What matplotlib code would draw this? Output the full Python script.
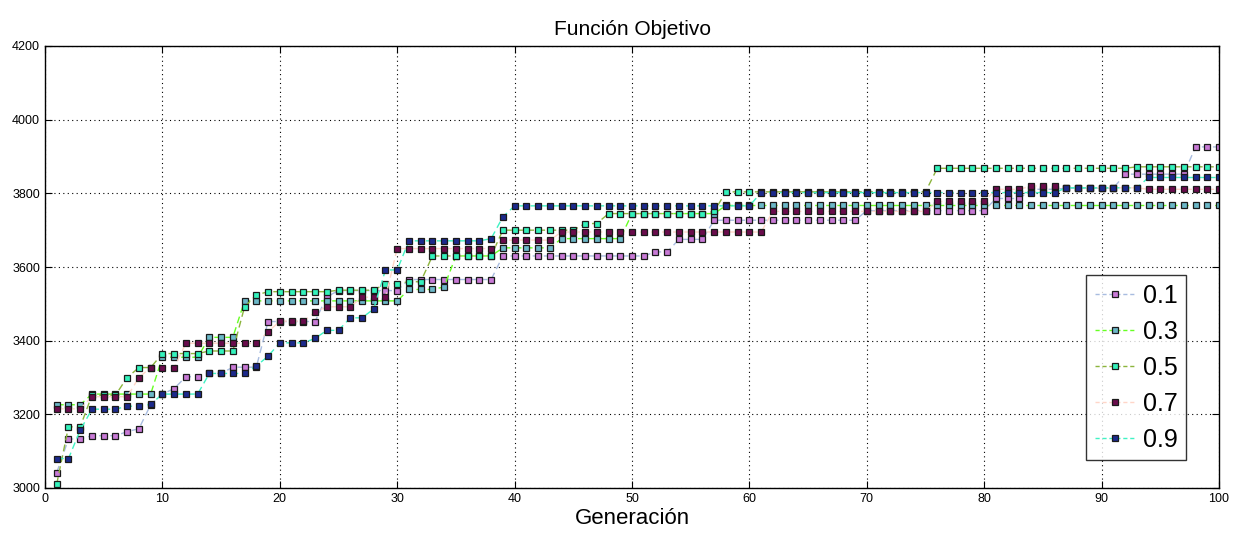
import numpy as np
import matplotlib
matplotlib.use("Agg")
import matplotlib.pyplot as plt
from matplotlib import font_manager

# Best objective value per generation for each parameter setting (step runs)
generations = list(range(1, 101))

def steps(runs):
    vals = []
    for count, v in runs:
        vals.extend([v] * count)
    return vals

serie_01 = steps([(1, 3042), (2, 3133), (3, 3142), (1, 3153), (1, 3161), (1, 3226),
                  (1, 3255), (1, 3270), (2, 3302), (2, 3311), (3, 3328), (5, 3452),
                  (1, 3519), (6, 3536), (8, 3566), (13, 3630), (2, 3641), (3, 3675),
                  (13, 3727), (11, 3753), (3, 3786), (3, 3811), (5, 3814), (6, 3852),
                  (3, 3926)])
serie_03 = steps([(3, 3226), (6, 3255), (4, 3355), (3, 3409), (14, 3508), (3, 3539),
                  (1, 3546), (4, 3630), (5, 3652), (6, 3677), (8, 3745), (43, 3767)])
serie_05 = steps([(1, 3011), (2, 3166), (3, 3252), (1, 3300), (2, 3327), (4, 3365),
                  (3, 3372), (1, 3492), (1, 3524), (6, 3533), (4, 3537), (2, 3555),
                  (2, 3560), (6, 3630), (7, 3700), (2, 3718), (9, 3745), (1, 3751),
                  (18, 3804), (17, 3868), (8, 3872)])
serie_07 = steps([(3, 3215), (4, 3248), (1, 3300), (3, 3327), (7, 3393), (1, 3424),
                  (3, 3453), (1, 3477), (3, 3492), (3, 3518), (9, 3650), (5, 3673),
                  (18, 3695), (14, 3751), (5, 3778), (3, 3811), (3, 3820), (7, 3815),
                  (7, 3811)])
serie_09 = steps([(2, 3080), (1, 3157), (3, 3214), (2, 3222), (1, 3227), (4, 3255),
                  (4, 3311), (1, 3331), (1, 3358), (3, 3394), (1, 3406), (2, 3428),
                  (2, 3462), (1, 3486), (2, 3592), (7, 3671), (1, 3677), (1, 3736),
                  (21, 3766), (26, 3802), (7, 3815), (7, 3843)])

labels = ["0.1", "0.3", "0.5", "0.7", "0.9"]
series = [serie_01, serie_03, serie_05, serie_07, serie_09]
line_colors = ["#a8bce0", "#66ff22", "#8cb43c", "#ffd6c8", "#40f2c4"]
face_colors = ["#c87ad6", "#6cb8c8", "#34f2bc", "#6a0c4c", "#1c2a8c"]

x_ticks = list(range(0, 101, 10))
y_ticks = list(range(3000, 4201, 200))

available = {f.name for f in font_manager.fontManager.ttflist}
narrow = "Liberation Sans Narrow" if "Liberation Sans Narrow" in available else "Liberation Sans"
plt.rcParams["font.family"] = [narrow, "DejaVu Sans"]

fig = plt.figure(figsize=(12.39, 5.42), dpi=100)
ax = fig.add_axes([45 / 1239, 1 - 488 / 542, 1174 / 1239, 442 / 542])

for vals, lab, lc, fc in zip(series, labels, line_colors, face_colors):
    ax.plot(generations, vals, linestyle=(0, (5, 3)), color=lc, linewidth=1.0,
            marker="s", markersize=4.2, markerfacecolor=fc,
            markeredgecolor="#1a1a1a", markeredgewidth=0.9, label=lab)

ax.set_xlim(0, 100)
ax.set_ylim(3000, 4200)
ax.set_xticks(x_ticks)
ax.set_yticks(y_ticks)
ax.tick_params(direction="in", top=True, right=True, labelsize=9, length=5)
ax.grid(True, linestyle=(0, (1, 3)), color="black", linewidth=0.8)
for s in ax.spines.values():
    s.set_linewidth(1.0)

ax.set_title("Función Objetivo", fontsize=15, pad=8)
ax.set_xlabel("Generación", fontsize=16, labelpad=2)

leg = ax.legend(loc="upper left", bbox_to_anchor=(0.887, 0.482), fontsize=18,
                frameon=True, fancybox=False, edgecolor="black",
                handlelength=1.6, labelspacing=0.48, borderpad=0.35,
                handletextpad=0.3, borderaxespad=0)
leg.get_frame().set_linewidth(1.0)
for h in leg.legend_handles:
    h.set_linestyle((0, (3, 2)))

fig.savefig("out.png", dpi=100)
